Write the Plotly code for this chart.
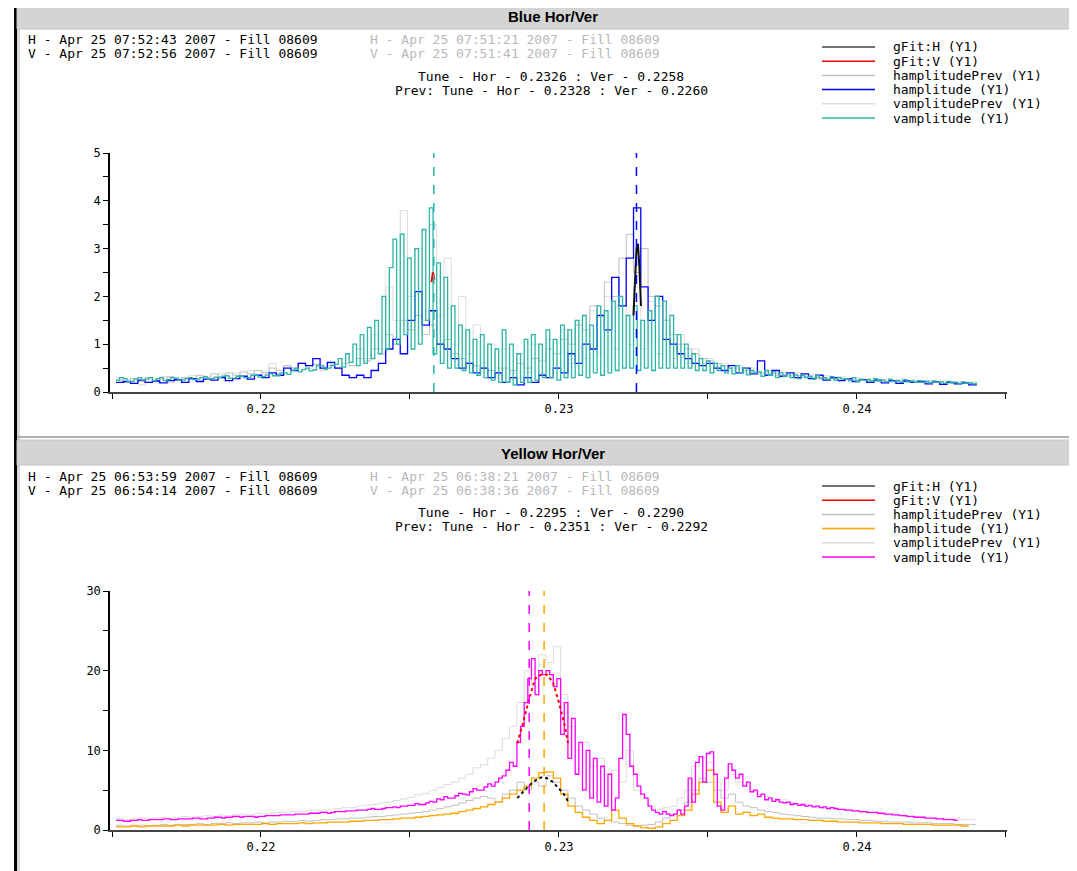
import numpy as np
import plotly.graph_objects as go

# page has an 8px body margin; the figure is sized so the page is 1077x871
OFF = 8
W, H = 1077 - OFF, 871 - OFF

# frequency bins (tune units): coarse and fine sampling
tune_bins = list(np.round(0.215134 + 0.0002446 * np.arange(119), 6))
fine_bins = list(np.round(0.215134 + 0.0001223 * np.arange(237), 6))

# ---------------- Blue ring (top panel) ----------------
blue_h_prev = [0.25,0.2,0.28,0.22,0.3,0.25,0.27,0.32,0.24,0.3,
               0.28,0.35,0.3,0.38,0.32,0.4,0.35,0.42,0.38,0.45,
               0.4,0.5,0.45,0.55,0.5,0.6,0.55,0.58,0.5,0.55,
               0.5,0.6,0.55,0.7,0.65,0.9,0.8,1.2,1.0,1.5,
               1.3,1.6,1.2,1.4,1.0,1.1,0.8,0.7,0.6,0.55,
               0.5,0.45,0.4,0.5,0.45,0.6,0.5,0.7,0.65,0.9,
               0.8,1.1,1.0,1.4,1.3,1.8,1.6,2.3,2.0,2.8,
               3.3,2.5,3.0,2.0,1.8,1.5,1.2,1.0,0.9,0.8,
               0.7,0.65,0.6,0.55,0.5,0.5,0.45,0.42,0.4,0.4,
               0.38,0.36,0.35,0.34,0.32,0.3,0.3,0.28,0.28,0.27,
               0.26,0.25,0.25,0.24,0.23,0.23,0.22,0.22,0.21,0.21,
               0.2,0.2,0.2,0.19,0.19,0.18,0.18,0.18,0.17]
blue_h = [0.2,0.22,0.18,0.25,0.2,0.23,0.19,0.24,0.26,0.2,
          0.28,0.22,0.27,0.25,0.3,0.24,0.28,0.33,0.27,0.35,
          0.3,0.4,0.35,0.5,0.45,0.6,0.55,0.7,0.5,0.62,
          0.5,0.35,0.3,0.35,0.3,0.45,0.6,0.9,1.1,0.8,
          1.5,2.1,1.4,1.7,1.0,0.9,0.7,0.5,0.6,0.4,
          0.5,0.3,0.4,0.2,0.3,0.15,0.3,0.2,0.35,0.3,
          0.5,0.4,0.8,0.6,1.0,0.9,1.6,1.3,2.4,1.8,
          2.8,3.85,2.2,1.5,2.0,1.1,1.0,0.8,0.7,0.6,
          0.55,0.6,0.5,0.45,0.55,0.4,0.5,0.38,0.65,0.35,
          0.45,0.33,0.4,0.3,0.38,0.28,0.35,0.25,0.3,0.24,
          0.28,0.22,0.26,0.2,0.25,0.19,0.24,0.18,0.23,0.2,
          0.22,0.17,0.21,0.16,0.2,0.17,0.19,0.15,0.18]
blue_v_prev = [0.3,0.22,0.28,0.15,0.3,0.25,0.32,0.2,0.3,0.28,
               0.35,0.25,0.33,0.3,0.38,0.28,0.4,0.32,0.45,0.35,
               0.42,0.6,0.4,0.55,0.45,0.62,0.5,0.58,0.45,0.6,
               0.5,0.7,0.55,0.9,0.7,1.2,0.9,2.2,1.5,3.8,
               2.0,3.0,1.5,3.5,1.6,2.8,1.0,2.0,0.8,1.4,
               0.6,1.0,0.5,0.9,0.4,0.8,0.4,1.0,0.4,1.1,
               0.5,1.3,0.6,1.5,0.7,1.7,0.8,2.0,0.9,1.8,
               1.0,2.2,0.9,1.9,0.8,1.5,0.7,1.2,0.6,0.9,
               0.6,0.7,0.5,0.6,0.45,0.55,0.4,0.5,0.38,0.45,
               0.35,0.42,0.33,0.4,0.3,0.36,0.28,0.34,0.27,0.32,
               0.26,0.3,0.25,0.28,0.24,0.27,0.23,0.26,0.22,0.25,
               0.21,0.24,0.2,0.23,0.2,0.22,0.19,0.21,0.19]
# vamplitude, fine sampling
blue_v = [0.25,0.3,0.28,0.22,0.22,0.27,0.3,0.25,0.27,0.3,0.24,0.28,0.3,0.24,0.26,0.3,0.29,0.25,0.25,0.28,
          0.3,0.26,0.27,0.3,0.32,0.27,0.28,0.31,0.3,0.33,0.34,0.29,0.29,0.33,0.33,0.3,0.3,0.35,0.35,0.31,
          0.32,0.36,0.38,0.34,0.34,0.4,0.4,0.37,0.45,0.5,0.42,0.47,0.5,0.44,0.46,0.55,0.55,0.48,0.5,0.56,
          0.58,0.7,0.52,0.8,0.62,1.0,0.55,1.2,0.6,1.35,0.7,1.5,0.8,2.0,0.9,2.6,3.2,1.0,3.3,1.2,
          2.8,0.9,3.0,1.0,3.4,1.5,3.85,0.8,2.7,0.6,2.4,0.5,1.8,0.5,1.4,0.45,1.3,0.4,1.1,0.35,
          1.2,0.3,1.0,0.25,0.9,0.2,1.3,0.2,1.0,0.15,0.8,0.2,1.1,0.2,1.2,0.25,1.0,0.3,1.3,0.3,
          1.1,0.25,1.4,0.3,1.3,0.3,1.5,0.35,1.6,0.3,1.4,0.4,1.8,0.35,1.7,0.4,1.9,0.45,2.0,0.5,
          1.6,0.5,1.8,0.45,1.5,0.5,1.7,0.45,2.0,0.5,1.9,0.5,1.6,0.5,1.2,0.5,1.0,0.5,0.8,0.45,
          0.7,0.45,0.65,0.4,0.6,0.45,0.55,0.4,0.5,0.38,0.55,0.4,0.5,0.36,0.45,0.4,0.42,0.33,0.45,0.35,
          0.42,0.3,0.4,0.32,0.38,0.3,0.36,0.28,0.35,0.3,0.33,0.27,0.34,0.28,0.3,0.26,0.32,0.25,0.3,0.27,
          0.28,0.24,0.3,0.22,0.27,0.25,0.26,0.22,0.28,0.23,0.25,0.21,0.27,0.22,0.24,0.2,0.26,0.21,0.23,0.2,
          0.24,0.2,0.22,0.19,0.23,0.2,0.21,0.18,0.22,0.19,0.2,0.17,0.21,0.18,0.19,0.17,0.2]
blue_fit_h_x = [0.2325, 0.23255, 0.2326, 0.23265, 0.2327, 0.23275]
blue_fit_h_y = [1.6, 2.4, 3.0, 3.1, 2.6, 1.8]
blue_fit_v_x = [0.22572, 0.22577, 0.22582]
blue_fit_v_y = [2.3, 2.5, 2.35]
blue_tunes = {"h": 0.2326, "v": 0.2258}

# ---------------- Yellow ring (bottom panel) ----------------
yel_h_prev = [0.6,0.5,0.6,0.6,0.5,0.6,0.7,0.6,0.7,0.7,
              0.7,0.8,0.7,0.8,0.8,0.9,0.8,0.9,0.9,1.0,
              0.9,1.0,1.0,1.1,1.1,1.2,1.1,1.2,1.3,1.3,
              1.4,1.4,1.5,1.5,1.6,1.7,1.7,1.8,1.9,2.0,
              2.1,2.2,2.3,2.5,2.7,2.9,3.1,3.4,3.7,4.0,
              4.2,4.0,3.5,4.5,5.0,6.0,
              5.0,6.0,5.5,6.8,6.0,5.0,4.0,3.0,2.5,2.0,
              1.5,1.2,1.0,0.8,0.6,0.5,0.6,0.7,1.0,1.5,
              2.0,2.5,3.5,5.0,6.5,6.0,5.0,4.0,4.5,3.5,
              3.0,2.8,2.5,2.3,
              2.2,2.0,1.9,1.8,1.7,1.6,1.5,1.5,1.4,1.4,
              1.3,1.3,1.2,1.2,1.1,1.1,1.0,1.0,1.0,0.9,
              0.9,0.9,0.8,0.8,0.8,0.7,0.7,0.7,0.7]
yel_h = [0.4,0.4,0.5,0.4,0.5,0.5,0.5,0.5,0.6,0.5,
         0.6,0.6,0.6,0.6,0.7,0.6,0.7,0.7,0.7,0.7,
         0.8,0.7,0.8,0.8,0.8,0.9,0.8,0.9,0.9,1.0,
         1.0,1.0,1.1,1.1,1.2,1.2,1.3,1.3,1.4,1.5,
         1.5,1.6,1.7,1.8,1.9,2.0,2.1,2.3,2.5,2.7,
         2.9,3.2,3.5,4.0,4.5,5.0,
         5.5,6.5,7.2,7.3,6.5,4.5,3.0,2.2,1.6,1.2,
         0.8,1.2,2.5,1.5,0.8,0.5,0.3,0.2,0.4,0.8,
         1.2,1.8,2.5,4.5,6.0,7.5,3.5,2.2,3.0,2.0,
         2.2,1.8,2.0,1.6,
         1.5,1.4,1.4,1.3,1.3,1.2,1.2,1.1,1.1,1.0,
         1.0,1.0,0.9,0.9,0.9,0.8,0.8,0.8,0.7,0.7,
         0.7,0.7,0.6,0.6,0.6,0.6,0.5,0.5,None]
yel_v_prev = [1.4,1.3,1.4,1.5,1.4,1.5,1.6,1.5,1.6,1.7,
              1.6,1.7,1.8,1.7,1.9,1.8,1.9,2.0,1.9,2.1,
              2.0,2.1,2.2,2.1,2.3,2.3,2.4,2.5,2.4,2.6,
              2.7,2.8,2.8,3.0,3.1,3.2,3.4,3.5,3.7,3.9,
              4.1,4.4,4.6,5.0,5.3,5.7,6.0,6.5,7.0,7.8,
              8.2,9.0,10,11.5,13,16,
              20,18,22,21,23,17,13,10,11,8,
              9,7,7.5,6,10,5,4,3,2.5,2.8,
              3,4,5,8,9,8.5,6,5,7,6,
              5.5,5,4.5,4.2,
              4,3.8,3.5,3.3,3.1,3.0,2.8,2.7,2.6,2.5,
              2.4,2.3,2.2,2.1,2.0,1.9,1.9,1.8,1.7,1.7,
              1.6,1.6,1.5,1.5,1.4,1.4,1.3,1.3,1.3]
# vamplitude, fine sampling
yel_v = [1.2,1.2,1.1,1.1,1.2,1.2,1.3,1.2,1.2,1.3,1.3,1.3,1.3,1.4,1.4,1.3,1.3,1.4,1.4,1.4,
         1.4,1.5,1.5,1.4,1.4,1.5,1.5,1.6,1.6,1.5,1.6,1.6,1.7,1.7,1.6,1.7,1.7,1.7,1.6,1.7,
         1.7,1.8,1.8,1.8,1.8,1.9,1.9,1.9,1.9,2.0,2.0,2.0,2.0,2.1,2.1,2.1,2.2,2.2,2.1,2.2,
         2.3,2.3,2.3,2.4,2.4,2.4,2.5,2.5,2.5,2.6,2.7,2.6,2.6,2.7,2.8,2.8,2.9,2.8,3.0,3.0,
         3.1,3.1,3.3,3.2,3.2,3.4,3.6,3.5,3.9,3.8,4.2,4.0,4.0,4.3,4.6,4.5,4.4,4.8,5.2,5.0,
         5.0,5.4,5.8,5.5,6.0,6.5,6.8,7.5,8.5,8.0,11,13,16,19,21.5,17,20,19.5,20,19.5,
         18,19,12,16,9,14,7,11,5,10,4,9,3.5,8,3,7,2.5,4,9,14.5,
         12,8,7,5.5,4.5,4,3,2.5,2.2,2.0,2.3,2.0,1.8,2.0,2.5,2.0,3.0,6.5,3.5,8.5,
         9.2,6,9.6,9.8,7,3.0,2.5,6.5,8.3,7.5,6.5,7.0,5.5,6.0,4.8,5.0,4.2,4.5,3.8,4.0,
         3.6,3.8,3.5,3.4,3.5,3.2,3.3,3.1,3.2,3.0,3.1,2.9,3.0,2.8,2.9,2.7,2.8,2.7,2.6,2.6,
         2.5,2.5,2.4,2.4,2.3,2.3,2.2,2.2,2.2,2.1,2.1,2.0,2.0,1.9,1.9,1.8,1.8,1.7,1.7,1.6,
         1.6,1.6,1.5,1.5,1.5,1.4,1.4,1.3,1.3,1.3,1.2,1.2,None,None,None,None,None]
yel_fit_h_x = [0.2286, 0.2288, 0.2290, 0.2292, 0.2294, 0.2296, 0.2298, 0.2300, 0.2302, 0.2303]
yel_fit_h_y = [4.0, 4.8, 5.6, 6.2, 6.6, 6.5, 6.0, 5.2, 4.3, 3.6]
yel_fit_v_x = [0.2286, 0.2288, 0.2290, 0.2292, 0.2294, 0.2296, 0.2298, 0.2300, 0.2302, 0.2303]
yel_fit_v_y = [10.9, 13.5, 16.5, 19.0, 19.5, 19.5, 18.5, 16.0, 13.0, 10.9]
yel_tunes = {"h": 0.2295, "v": 0.2290}

# text content
blue_title = "Blue Hor/Ver"
blue_info = ["H - Apr 25 07:52:43 2007 - Fill 08609", "V - Apr 25 07:52:56 2007 - Fill 08609"]
blue_prev_info = ["H - Apr 25 07:51:21 2007 - Fill 08609", "V - Apr 25 07:51:41 2007 - Fill 08609"]
blue_tune_txt = ["Tune - Hor - 0.2326 : Ver - 0.2258", "Prev: Tune - Hor - 0.2328 : Ver - 0.2260"]
yel_title = "Yellow Hor/Ver"
yel_info = ["H - Apr 25 06:53:59 2007 - Fill 08609", "V - Apr 25 06:54:14 2007 - Fill 08609"]
yel_prev_info = ["H - Apr 25 06:38:21 2007 - Fill 08609", "V - Apr 25 06:38:36 2007 - Fill 08609"]
yel_tune_txt = ["Tune - Hor - 0.2295 : Ver - 0.2290", "Prev: Tune - Hor - 0.2351 : Ver - 0.2292"]
legend_names = ["gFit:H (Y1)", "gFit:V (Y1)", "hamplitudePrev (Y1)", "hamplitude (Y1)",
                "vamplitudePrev (Y1)", "vamplitude (Y1)"]

C_FITH, C_FITV, C_HPREV, C_VPREV = "#111111", "#ff0000", "#c0c0c0", "#dcdcdc"
C_BLUE_H, C_BLUE_V = "#0000ff", "#2ab5a8"
C_YEL_H, C_YEL_V = "#ffa500", "#ff00ff"

def px(x):
    return (x - OFF) / W

def py(y):
    return 1 - (y - OFF) / H

fig = go.Figure()

def add_panel(xa, ya, hprev, h, vprev, v, fhx, fhy, fvx, fvy, ch, cv, fit_dash):
    common = dict(mode="lines", line_shape="hv", xaxis=xa, yaxis=ya,
                  showlegend=False, connectgaps=False)
    fig.add_trace(go.Scatter(x=tune_bins, y=vprev, line=dict(color=C_VPREV, width=1), name="vamplitudePrev (Y1)", **common))
    fig.add_trace(go.Scatter(x=tune_bins, y=hprev, line=dict(color=C_HPREV, width=1), name="hamplitudePrev (Y1)", **common))
    fig.add_trace(go.Scatter(x=tune_bins, y=h, line=dict(color=ch, width=1.3), name="hamplitude (Y1)", **common))
    fig.add_trace(go.Scatter(x=fine_bins, y=v, line=dict(color=cv, width=1.3), name="vamplitude (Y1)", **common))
    fig.add_trace(go.Scatter(x=fhx, y=fhy, mode="lines", xaxis=xa, yaxis=ya, showlegend=False,
                             line=dict(color=C_FITH, width=2, dash=fit_dash), name="gFit:H (Y1)"))
    fig.add_trace(go.Scatter(x=fvx, y=fvy, mode="lines", xaxis=xa, yaxis=ya, showlegend=False,
                             line=dict(color=C_FITV, width=2, dash=fit_dash), name="gFit:V (Y1)"))

add_panel("x", "y", blue_h_prev, blue_h, blue_v_prev, blue_v,
          blue_fit_h_x, blue_fit_h_y, blue_fit_v_x, blue_fit_v_y, C_BLUE_H, C_BLUE_V, "solid")
add_panel("x2", "y2", yel_h_prev, yel_h, yel_v_prev, yel_v,
          yel_fit_h_x, yel_fit_h_y, yel_fit_v_x, yel_fit_v_y, C_YEL_H, C_YEL_V, "dot")

# tune markers
for xr, yr, tunes, ch, cv in [("x", "y", blue_tunes, C_BLUE_H, C_BLUE_V),
                              ("x2", "y2", yel_tunes, C_YEL_H, C_YEL_V)]:
    for key, col in (("v", cv), ("h", ch)):
        fig.add_shape(type="line", xref=xr, yref=yr + " domain", x0=tunes[key], x1=tunes[key],
                      y0=0, y1=1, line=dict(color=col, width=1.5, dash="dash"))

xrange = [0.214933, 0.245034]
axis_font = dict(family="DejaVu Sans Mono", size=12, color="#000")
xcommon = dict(range=xrange, domain=[px(110), px(1007)], showgrid=False, zeroline=False,
               showline=True, linecolor="#444", linewidth=2, ticks="outside", ticklen=5,
               tickcolor="#000", tick0=0.22, dtick=0.01, tickformat=".2f", tickfont=axis_font,
               automargin=False,
               minor=dict(ticks="outside", ticklen=5, tickcolor="#000", dtick=0.005, tick0=0.22, showgrid=False))
ycommon = dict(showgrid=False, zeroline=False, showline=True, linecolor="#000", linewidth=1.5,
               ticks="outside", ticklen=5, tickcolor="#000", tickfont=axis_font, automargin=False)

fig.update_layout(
    width=W, height=H, margin=dict(l=0, r=0, t=0, b=0),
    paper_bgcolor="white", plot_bgcolor="white", showlegend=False,
    xaxis=dict(anchor="y", **xcommon),
    yaxis=dict(anchor="x", domain=[py(392), py(153)], range=[0, 5], dtick=1,
               minor=dict(ticks="outside", ticklen=5, tickcolor="#000", dtick=0.5), **ycommon),
    xaxis2=dict(anchor="y2", **xcommon),
    yaxis2=dict(anchor="x2", domain=[py(830), py(591)], range=[0, 30], dtick=10,
                minor=dict(ticks="outside", ticklen=5, tickcolor="#000", dtick=5), **ycommon),
)

# frame and title bars
fig.add_shape(type="rect", xref="paper", yref="paper", x0=px(14), x1=px(1077), y0=py(4), y1=py(8),
              fillcolor="#000", line_width=0, layer="below")
fig.add_shape(type="rect", xref="paper", yref="paper", x0=px(14), x1=px(17), y0=py(871), y1=py(8),
              fillcolor="#000", line_width=0, layer="below")
fig.add_shape(type="rect", xref="paper", yref="paper", x0=px(17), x1=px(20), y0=py(871), y1=py(4),
              fillcolor="#d8d8d8", line_width=0, layer="below")
fig.add_shape(type="rect", xref="paper", yref="paper", x0=px(17), x1=px(1077), y0=py(29), y1=py(4),
              fillcolor="#d4d4d4", line=dict(color="#c4c4c4", width=1), layer="below")
fig.add_shape(type="line", xref="paper", yref="paper", x0=px(17), x1=px(1077), y0=py(437), y1=py(437),
              line=dict(color="#b0b0b0", width=2), layer="below")
fig.add_shape(type="rect", xref="paper", yref="paper", x0=px(17), x1=px(1077), y0=py(465), y1=py(440),
              fillcolor="#d4d4d4", line=dict(color="#c4c4c4", width=1), layer="below")

mono = "DejaVu Sans Mono"

def text(x, y, s, color="#000", size=13, anchor="left", family=mono):
    fig.add_annotation(xref="paper", yref="paper", x=px(x), y=py(y), text=s, showarrow=False,
                       xanchor=anchor, yanchor="middle", font=dict(family=family, size=size, color=color))

def header(y0, title, info, prev_info, tune_txt, legend_colors, leg_y):
    text(553, y0 + 13, "<b>%s</b>" % title, size=15, anchor="center", family="Liberation Sans")
    text(26, y0 + 36, info[0]); text(26, y0 + 50, info[1])
    text(368, y0 + 36, prev_info[0], color="#b8b8b8"); text(368, y0 + 50, prev_info[1], color="#b8b8b8")
    text(551, y0 + 72, tune_txt[0], anchor="center"); text(551, y0 + 86, tune_txt[1], anchor="center")
    for k, (nm, col) in enumerate(zip(legend_names, legend_colors)):
        yy = leg_y + 14.2 * k
        fig.add_shape(type="line", xref="paper", yref="paper", x0=px(822), x1=px(875), y0=py(yy), y1=py(yy),
                      line=dict(color=col, width=1.5))
        text(891, yy, nm, size=13)

header(4, blue_title, blue_info, blue_prev_info, blue_tune_txt,
       ["#444", C_FITV, C_HPREV, C_BLUE_H, C_VPREV, C_BLUE_V], 47)
header(440, yel_title, yel_info, yel_prev_info, yel_tune_txt,
       ["#444", C_FITV, C_HPREV, C_YEL_H, C_VPREV, C_YEL_V], 486)

fig.write_html("out.html")
